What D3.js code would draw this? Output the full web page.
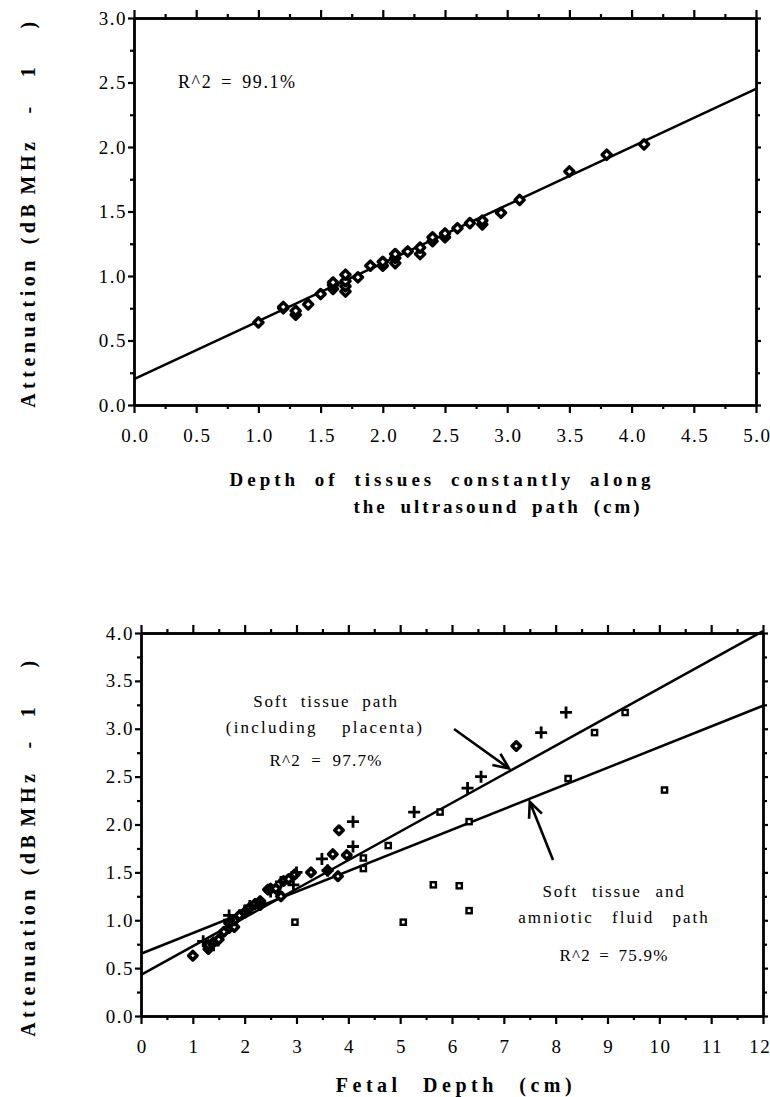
<!DOCTYPE html>
<html>
<head>
<meta charset="utf-8">
<script src="https://cdn.jsdelivr.net/npm/d3@7"></script>
<style>
  body { margin: 0; background: #fff; }
  svg { display: block; }
</style>
</head>
<body>
<svg id="chart" width="770" height="1097"></svg>
<script>
// ---- top panel: depth of tissues vs attenuation ----
const tissueDepth = [1.0, 1.2, 1.2, 1.3, 1.3, 1.4, 1.5, 1.6, 1.6, 1.6, 1.7, 1.7, 1.7, 1.7, 1.8, 1.9, 2.0, 2.0, 2.1, 2.1, 2.1, 2.2, 2.3, 2.3, 2.4, 2.4, 2.5, 2.5, 2.6, 2.7, 2.8, 2.8, 2.95, 3.1, 3.5, 3.8, 4.1];
const tissueAtten = [0.64, 0.75, 0.76, 0.70, 0.73, 0.78, 0.86, 0.90, 0.93, 0.95, 0.88, 0.92, 0.96, 1.01, 0.99, 1.08, 1.08, 1.11, 1.10, 1.14, 1.17, 1.19, 1.17, 1.22, 1.27, 1.30, 1.30, 1.33, 1.37, 1.41, 1.40, 1.43, 1.49, 1.59, 1.81, 1.94, 2.02];
const tissueFitX = [0, 5];
const tissueFitY = [0.20, 2.45];
const tissueXTicks = [0, 0.5, 1, 1.5, 2, 2.5, 3, 3.5, 4, 4.5, 5];
const tissueYTicks = [0, 0.5, 1, 1.5, 2, 2.5, 3];

// ---- bottom panel: fetal depth vs attenuation ----
const diamondX = [1.0, 1.3, 1.3, 1.4, 1.5, 1.6, 1.7, 1.7, 1.8, 1.8, 1.9, 2.0, 2.1, 2.2, 2.3, 2.3, 2.45, 2.5, 2.6, 2.7, 2.75, 2.85, 2.97, 3.28, 3.6, 3.7, 3.8, 3.82, 3.97, 7.24];
const diamondY = [0.63, 0.70, 0.74, 0.77, 0.80, 0.88, 0.92, 0.97, 0.93, 1.00, 1.05, 1.08, 1.13, 1.17, 1.16, 1.20, 1.32, 1.33, 1.33, 1.25, 1.41, 1.43, 1.48, 1.50, 1.52, 1.69, 1.46, 1.94, 1.68, 2.82];
const plusX = [1.2, 1.4, 1.7, 1.7, 2.0, 2.1, 2.3, 2.5, 2.7, 2.94, 3.0, 3.49, 3.6, 4.09, 4.09, 5.27, 6.3, 6.56, 7.72, 8.2];
const plusY = [0.78, 0.74, 1.00, 1.05, 1.10, 1.15, 1.18, 1.30, 1.40, 1.37, 1.50, 1.64, 1.52, 1.77, 2.03, 2.13, 2.38, 2.50, 2.96, 3.17];
const squareX = [2.97, 4.29, 4.29, 4.77, 5.06, 5.64, 5.77, 6.14, 6.33, 6.33, 8.24, 8.75, 9.34, 10.1];
const squareY = [0.98, 1.65, 1.54, 1.78, 0.98, 1.37, 2.13, 1.36, 2.03, 1.10, 2.48, 2.96, 3.17, 2.36];
const softFitX = [0, 12];
const softFitY = [0.43, 4.02];
const fluidFitX = [0, 12];
const fluidFitY = [0.65, 3.24];
const fetalXTicks = d3.range(0, 13);
const fetalYTicks = [0, 0.5, 1, 1.5, 2, 2.5, 3, 3.5, 4];

const SERIF = "'Liberation Serif', 'Times New Roman', Times, 'DejaVu Serif', serif";
const TICK_FONT = '19px';

const svg = d3.select('#chart').attr('font-family', SERIF);
svg.append('rect').attr('width', 770).attr('height', 1097).attr('fill', '#fff');

function drawFrame(cfg) {
    const x = d3.scaleLinear().domain(cfg.xDomain).range([cfg.left, cfg.right]);
    const y = d3.scaleLinear().domain(cfg.yDomain).range([cfg.bottom, cfg.top]);
    const g = svg.append('g');

    const addAxis = (axis, transform, ticks, size, fmt) => {
        const a = g.append('g')
            .attr('transform', transform)
            .call(axis.tickValues(ticks).tickSize(size).tickSizeOuter(0)
                .tickFormat(fmt || ''));
        a.attr('font-family', SERIF).attr('font-size', TICK_FONT);
        a.select('.domain').attr('stroke-width', 2.4);
        a.selectAll('line').attr('stroke-width', 2.2);
        a.selectAll('text')
            .attr('font-family', SERIF)
            .style('letter-spacing', '1.5px');
        return a;
    };

    // bottom
    addAxis(d3.axisBottom(x), `translate(0,${cfg.bottom})`, cfg.xTicks, 8, cfg.xFormat)
        .selectAll('text').attr('y', 37).attr('dy', 0).attr('dx', '0.75px');
    addAxis(d3.axisBottom(x), `translate(0,${cfg.bottom})`, cfg.xMinor, 4);
    // top
    addAxis(d3.axisTop(x), `translate(0,${cfg.top})`, cfg.xTicks, 8);
    addAxis(d3.axisTop(x), `translate(0,${cfg.top})`, cfg.xMinor, 4);
    // left
    addAxis(d3.axisLeft(y), `translate(${cfg.left},0)`, cfg.yTicks, 6, d3.format('.1f'))
        .selectAll('text').attr('x', -7);
    addAxis(d3.axisLeft(y), `translate(${cfg.left},0)`, cfg.yMinor, 4);
    // right
    addAxis(d3.axisRight(y), `translate(${cfg.right},0)`, cfg.yTicks, 5);
    addAxis(d3.axisRight(y), `translate(${cfg.right},0)`, cfg.yMinor, 4);

    return { x, y, g };
}

function fitLine(p, xs, ys) {
    p.g.append('path')
        .datum(xs.map((d, i) => [d, ys[i]]))
        .attr('fill', 'none')
        .attr('stroke', '#000')
        .attr('stroke-width', 2.5)
        .attr('d', d3.line().x(d => p.x(d[0])).y(d => p.y(d[1])));
}

function diamondPath(r) {
    return `M0,${-r}L${r},0L0,${r}L${-r},0Z`;
}

// rotated y title, one piece per word so the gaps follow the original
function yTitle(xBase, parts) {
    const t = svg.append('g');
    parts.forEach(([word, yc]) => {
        t.append('text')
            .attr('transform', `translate(${xBase},${yc}) rotate(-90)`)
            .attr('text-anchor', 'middle')
            .attr('font-family', SERIF)
            .attr('font-size', 20)
            .attr('font-weight', 700)
            .style('letter-spacing', '4.5px')
            .text(word);
    });
}

function label(x, y, str, opt) {
    return svg.append('text')
        .attr('x', x).attr('y', y)
        .attr('text-anchor', opt.anchor || 'middle')
        .attr('font-family', SERIF)
        .attr('font-size', opt.size)
        .attr('font-weight', opt.bold ? 700 : 400)
        .style('letter-spacing', (opt.ls || 0) + 'px')
        .style('word-spacing', (opt.ws || 0) + 'px')
        .text(str);
}

function arrow(p, x1, y1, x2, y2) {
    const ang = Math.atan2(y2 - y1, x2 - x1);
    const head = 17, spread = 0.42;
    p.g.append('path')
        .attr('fill', 'none')
        .attr('stroke', '#000')
        .attr('stroke-width', 2.6)
        .attr('d', `M${x1},${y1}L${x2},${y2}` +
            `M${x2 - head * Math.cos(ang - spread)},${y2 - head * Math.sin(ang - spread)}` +
            `L${x2},${y2}` +
            `L${x2 - head * Math.cos(ang + spread)},${y2 - head * Math.sin(ang + spread)}`);
}

// ===== top panel =====
const upper = drawFrame({
    xDomain: [0, 5], yDomain: [0, 3],
    left: 134, right: 756, top: 18, bottom: 405,
    xTicks: tissueXTicks, xMinor: d3.range(0.25, 5, 0.5),
    yTicks: tissueYTicks, yMinor: d3.range(0.25, 3, 0.5),
    xFormat: d3.format('.1f')
});
fitLine(upper, tissueFitX, tissueFitY);
upper.g.append('g').selectAll('path')
    .data(tissueDepth.map((d, i) => [d, tissueAtten[i]]))
    .join('path')
    .attr('transform', d => `translate(${upper.x(d[0])},${upper.y(d[1])})`)
    .attr('d', diamondPath(4.6))
    .attr('fill', '#fff')
    .attr('stroke', '#000')
    .attr('stroke-width', 3.4)
    .attr('stroke-linejoin', 'round');

label(178, 88, 'R^2 = 99.1%', { size: 18, anchor: 'start', ls: 1.6, ws: 3 });

yTitle(35, [['Attenuation', 332], ['(dB', 222], ['MHz', 166], ['-', 108], ['1', 70], [')', 23]]);
label(442, 486, 'Depth of tissues constantly along', { size: 19, bold: true, ls: 4, ws: 7 });
label(498, 513, 'the ultrasound path (cm)', { size: 19, bold: true, ls: 3, ws: 5 });

// ===== bottom panel =====
const lower = drawFrame({
    xDomain: [0, 12], yDomain: [0, 4],
    left: 141, right: 763, top: 633, bottom: 1016,
    xTicks: fetalXTicks, xMinor: d3.range(0.5, 12, 1),
    yTicks: fetalYTicks, yMinor: d3.range(0.25, 4, 0.5),
    xFormat: d3.format('d')
});
// the last x label sits against the page edge
lower.g.selectAll('.tick text').filter(d => d === 12)
    .attr('text-anchor', 'end').attr('x', 770 - lower.x(12));

fitLine(lower, softFitX, softFitY);
fitLine(lower, fluidFitX, fluidFitY);

lower.g.append('g').selectAll('path')
    .data(diamondX.map((d, i) => [d, diamondY[i]]))
    .join('path')
    .attr('transform', d => `translate(${lower.x(d[0])},${lower.y(d[1])})`)
    .attr('d', diamondPath(4.2))
    .attr('fill', '#fff')
    .attr('stroke', '#000')
    .attr('stroke-width', 3.6)
    .attr('stroke-linejoin', 'round');

lower.g.append('g').selectAll('path')
    .data(plusX.map((d, i) => [d, plusY[i]]))
    .join('path')
    .attr('transform', d => `translate(${lower.x(d[0])},${lower.y(d[1])})`)
    .attr('d', 'M-6,0H6M0,-6V6')
    .attr('stroke', '#000')
    .attr('stroke-width', 2.8);

lower.g.append('g').selectAll('rect')
    .data(squareX.map((d, i) => [d, squareY[i]]))
    .join('rect')
    .attr('x', d => lower.x(d[0]) - 2.6)
    .attr('y', d => lower.y(d[1]) - 2.6)
    .attr('width', 5.2).attr('height', 5.2)
    .attr('fill', '#fff')
    .attr('stroke', '#000')
    .attr('stroke-width', 2.4);

const softAt = v => softFitY[0] + (softFitY[1] - softFitY[0]) * v / softFitX[1];
const fluidAt = v => fluidFitY[0] + (fluidFitY[1] - fluidFitY[0]) * v / fluidFitX[1];

label(326, 707, 'Soft tissue path', { size: 17, ls: 1.8, ws: 6 });
label(325, 733, '(including placenta)', { size: 17, ls: 2.2, ws: 18 });
label(326, 766, 'R^2 = 97.7%', { size: 17, ls: 1.2, ws: 5 });
arrow(lower, 454, 729, lower.x(7.1), lower.y(softAt(7.1)) - 3);

label(614, 897, 'Soft tissue and', { size: 17, ls: 1.8, ws: 8 });
label(614, 923, 'amniotic fluid path', { size: 17, ls: 2, ws: 12 });
label(614, 961, 'R^2 = 75.9%', { size: 17, ls: 1.2, ws: 3 });
arrow(lower, 553, 860, lower.x(7.5), lower.y(fluidAt(7.5)) + 3);

yTitle(35, [['Attenuation', 961], ['(dB', 853], ['MHz', 798], ['-', 743], ['1', 710], [')', 662]]);
label(456, 1092, 'Fetal Depth (cm)', { size: 20, bold: true, ls: 4.5, ws: 12 });
</script>
</body>
</html>
